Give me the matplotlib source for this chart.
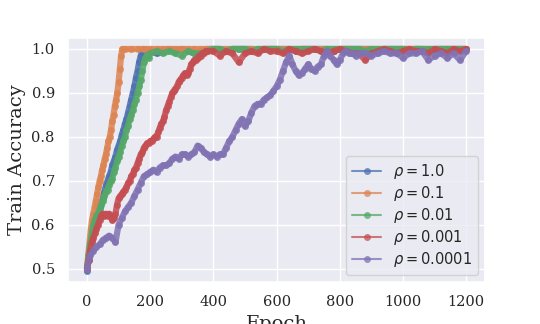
import matplotlib
matplotlib.use("Agg")
import matplotlib.pyplot as plt
import numpy as np
import seaborn as sns

# ---------- data ----------------------------------------------------------
labels = [r"$\rho=1.0$", r"$\rho=0.1$", r"$\rho=0.01$", r"$\rho=0.001$", r"$\rho=0.0001$"]

# epoch grids: dense while the curve climbs, sparse on the plateau
ep_1 = np.r_[np.arange(0, 185, 5), np.arange(200, 1200, 20), 1199]
ep_01 = np.r_[np.arange(0, 116, 4), np.arange(120, 1200, 20), 1199]
ep_001 = np.r_[np.arange(0, 205, 5), np.arange(220, 1200, 20), 1199]
ep_0001 = np.r_[np.arange(0, 385, 5), np.arange(400, 1200, 20), 1199]
ep_00001 = np.r_[np.arange(0, 870, 10), np.arange(880, 1200, 20), 1199]

acc_1 = [
    0.495, 0.52, 0.545, 0.565, 0.585, 0.60, 0.615, 0.625, 0.64, 0.65,
    0.66, 0.675, 0.69, 0.70, 0.71, 0.72, 0.735, 0.745, 0.755, 0.77,
    0.78, 0.79, 0.805, 0.815, 0.83, 0.84, 0.855, 0.87, 0.885, 0.90,
    0.915, 0.935, 0.95, 0.97, 0.985, 0.995, 1.0,
    # plateau 200..1180, 1199
    0.995, 0.99, 0.995, 1.0, 0.995, 1.0, 0.995, 0.99, 0.995, 1.0,
    1.0, 1.0, 0.995, 1.0, 1.0, 1.0, 1.0, 0.995, 1.0, 1.0,
    1.0, 1.0, 1.0, 0.995, 1.0, 1.0, 1.0, 1.0, 1.0, 0.995,
    1.0, 1.0, 1.0, 1.0, 1.0, 1.0, 0.995, 1.0, 1.0, 1.0,
    1.0, 1.0, 1.0, 1.0, 0.995, 1.0, 1.0, 1.0, 1.0, 1.0,
    1.0,
]

acc_01 = [
    0.50, 0.53, 0.56, 0.59, 0.61, 0.625, 0.64, 0.655, 0.67, 0.685,
    0.70, 0.71, 0.725, 0.735, 0.75, 0.76, 0.775, 0.79, 0.80, 0.815,
    0.835, 0.85, 0.87, 0.885, 0.90, 0.925, 0.955, 0.985, 1.0,
    # plateau 120..1180, 1199
    1.0, 1.0, 1.0, 1.0, 1.0, 1.0, 1.0, 1.0, 1.0, 1.0,
    1.0, 1.0, 1.0, 1.0, 1.0, 1.0, 1.0, 1.0, 1.0, 1.0,
    1.0, 1.0, 1.0, 1.0, 1.0, 1.0, 1.0, 1.0, 1.0, 1.0,
    1.0, 1.0, 1.0, 1.0, 1.0, 1.0, 1.0, 1.0, 1.0, 1.0,
    1.0, 1.0, 1.0, 1.0, 1.0, 1.0, 1.0, 1.0, 1.0, 1.0,
    1.0, 1.0, 1.0, 1.0, 1.0,
]

acc_001 = [
    0.50, 0.53, 0.555, 0.58, 0.60, 0.61, 0.62, 0.625, 0.635, 0.645,
    0.655, 0.665, 0.675, 0.68, 0.69, 0.70, 0.705, 0.72, 0.73, 0.745,
    0.755, 0.765, 0.78, 0.79, 0.80, 0.815, 0.825, 0.84, 0.85, 0.86,
    0.875, 0.885, 0.90, 0.915, 0.93, 0.95, 0.97, 0.98, 0.985, 0.98,
    0.99,
    # plateau 220..1180, 1199
    0.995, 0.99, 0.995, 0.99, 0.985, 0.995, 0.99, 0.99, 0.995, 1.0,
    1.0, 0.995, 1.0, 1.0, 1.0, 0.995, 1.0, 1.0, 1.0, 1.0,
    0.995, 1.0, 1.0, 1.0, 1.0, 1.0, 0.995, 1.0, 1.0, 1.0,
    1.0, 1.0, 1.0, 0.995, 1.0, 1.0, 1.0, 1.0, 1.0, 1.0,
    0.995, 1.0, 1.0, 1.0, 1.0, 1.0, 1.0, 1.0, 1.0, 1.0,
]

acc_0001 = [
    0.50, 0.52, 0.54, 0.56, 0.57, 0.58, 0.59, 0.60, 0.61, 0.62,
    0.625, 0.62, 0.625, 0.62, 0.625, 0.62, 0.61, 0.615, 0.625, 0.645,
    0.66, 0.665, 0.67, 0.675, 0.68, 0.685, 0.695, 0.70, 0.71, 0.715,
    0.725, 0.73, 0.74, 0.75, 0.76, 0.765, 0.775, 0.78, 0.785, 0.785,
    0.79, 0.79, 0.795, 0.80, 0.80, 0.81, 0.82, 0.83, 0.835, 0.845,
    0.86, 0.87, 0.88, 0.89, 0.90, 0.905, 0.91, 0.915, 0.925, 0.93,
    0.935, 0.94, 0.945, 0.94, 0.945, 0.955, 0.965, 0.97, 0.975, 0.975,
    0.98, 0.985, 0.985, 0.99, 0.99, 0.995, 0.995,
    # plateau 400..1180, 1199
    0.995, 0.985, 0.995, 0.99, 0.97, 0.99, 0.995, 0.99, 1.0, 0.995,
    0.995, 0.99, 1.0, 0.995, 0.99, 0.995, 1.0, 0.995, 0.99, 0.995,
    1.0, 0.995, 0.99, 0.99, 0.975, 0.99, 0.995, 1.0, 0.995, 0.99,
    0.995, 1.0, 0.995, 0.995, 0.99, 1.0, 0.995, 0.99, 1.0, 0.995,
    1.0,
]

acc_00001 = [
    0.50, 0.53, 0.54, 0.55, 0.555, 0.565, 0.57, 0.575, 0.57, 0.56,
    0.60, 0.615, 0.63, 0.64, 0.65, 0.665, 0.68, 0.695, 0.71, 0.715,
    0.72, 0.725, 0.72, 0.73, 0.735, 0.735, 0.74, 0.75, 0.755, 0.75,
    0.76, 0.76, 0.755, 0.76, 0.765, 0.78, 0.775, 0.765, 0.76, 0.755,
    0.76, 0.755, 0.76, 0.76, 0.775, 0.79, 0.80, 0.815, 0.83, 0.84,
    0.825, 0.835, 0.855, 0.87, 0.875, 0.875, 0.885, 0.89, 0.895, 0.905,
    0.915, 0.93, 0.95, 0.97, 0.985, 0.965, 0.95, 0.94, 0.945, 0.955,
    0.965, 0.955, 0.95, 0.96, 0.965, 0.985, 0.995, 0.985, 0.975, 0.965,
    0.975, 0.99, 0.995, 0.99, 0.99, 0.985, 0.99,
    # plateau 880..1180, 1199
    0.99, 0.985, 0.99, 0.995, 0.99, 0.99, 0.98, 0.99, 0.99, 0.995,
    0.975, 0.985, 0.99, 0.98, 0.99, 0.975, 0.995,
]

epochs = [ep_1, ep_01, ep_001, ep_0001, ep_00001]
accs = [acc_1, acc_01, acc_001, acc_0001, acc_00001]

# ---------- plot -----------------------------------------------------------
sns.set_theme(style="darkgrid")
colors = sns.color_palette("deep")

fig, ax = plt.subplots(figsize=(5.4, 3.24), dpi=100)
fig.subplots_adjust(left=0.126, right=0.898, top=0.883, bottom=0.130)

for ep, acc, lab, col in zip(epochs, accs, labels, colors):
    assert len(ep) == len(acc), lab
    # thick line + dots imitate the dense per-epoch markers of the original
    ax.plot(ep, acc, marker="o", markersize=5, markeredgewidth=0,
            linewidth=4.5, alpha=0.85, color=col, label=lab)

ax.set_xlabel("Epoch", family="DejaVu Serif", fontsize=14)
ax.set_ylabel("Train Accuracy", family="DejaVu Serif", fontsize=14)
ax.set_xticks([0, 200, 400, 600, 800, 1000, 1200])
ax.set_yticks([0.5, 0.6, 0.7, 0.8, 0.9, 1.0])
for t in ax.get_xticklabels() + ax.get_yticklabels():
    t.set_family("DejaVu Serif")
    t.set_fontsize(10.5)

leg = ax.legend(loc="lower right", prop={"family": "DejaVu Sans", "size": 10.5},
                labelspacing=0.2)
for h in leg.get_lines():
    h.set_linewidth(1.5)
    h.set_alpha(0.75)
    h.set_markersize(5)

fig.savefig("out.png", dpi=100)
